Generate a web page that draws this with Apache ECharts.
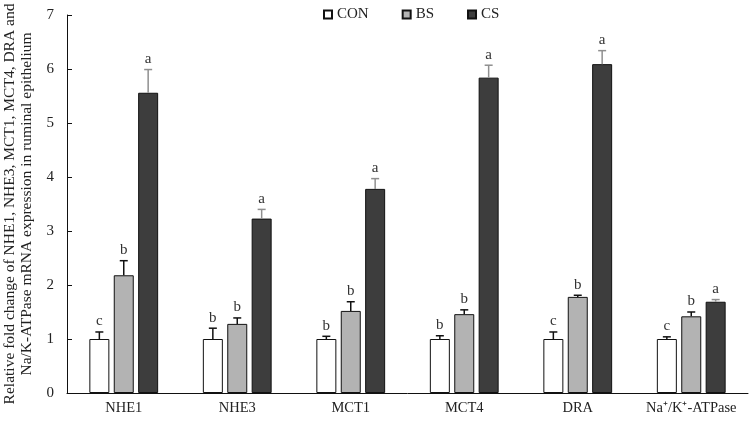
<!DOCTYPE html>
<html>
<head>
<meta charset="utf-8">
<script src="https://cdn.jsdelivr.net/npm/echarts@6/dist/echarts.min.js"></script>
<style>html,body{margin:0;padding:0;background:#fff;}#c{width:752px;height:422px;}</style>
</head>
<body>
<div id="c"></div>
<script>
var categories = ['NHE1', 'NHE3', 'MCT1', 'MCT4', 'DRA', 'Na\u207A/K\u207A-ATPase'];
var seriesNames = ['CON', 'BS', 'CS'];
var conValues = [1.00, 1.00, 1.00, 1.00, 1.00, 1.00];
var bsValues  = [2.18, 1.28, 1.52, 1.46, 1.78, 1.42];
var csValues  = [5.56, 3.23, 3.78, 5.84, 6.09, 1.69];
var conErr = [0.13, 0.20, 0.05, 0.06, 0.13, 0.04];
var bsErr  = [0.27, 0.11, 0.17, 0.08, 0.03, 0.08];
var csErr  = [0.43, 0.17, 0.19, 0.23, 0.25, 0.04];
var conLetters = ['c', 'b', 'b', 'b', 'c', 'c'];
var bsLetters  = ['b', 'b', 'b', 'b', 'b', 'b'];
var csLetters  = ['a', 'a', 'a', 'a', 'a', 'a'];
var yTicks = [0, 1, 2, 3, 4, 5, 6, 7];

var values = [conValues, bsValues, csValues];
var errs = [conErr, bsErr, csErr];
var letters = [conLetters, bsLetters, csLetters];
var fills = ['#ffffff', '#b3b3b3', '#3d3d3d'];
var errColors = ['#111111', '#111111', '#8f8f8f'];
var FONT = '"Liberation Serif", "Times New Roman", serif';
var BAR_W = 20, BAR_GAP = 4.4;

var chart = echarts.init(document.getElementById('c'), null, {renderer: 'canvas'});

function errRender(si) {
  return function (params, api) {
    var xi = api.value(0), m = api.value(1), e = api.value(2);
    var base = api.coord([xi, m]);
    var top = api.coord([xi, m + e]);
    var cx = base[0] + (si - 1) * (BAR_W + BAR_GAP);
    var col = errColors[si];
    return {
      type: 'group',
      children: [
        {type: 'line', shape: {x1: cx, y1: base[1], x2: cx, y2: top[1]}, style: {stroke: col, lineWidth: 1.5}},
        {type: 'line', shape: {x1: cx - 4, y1: top[1], x2: cx + 4, y2: top[1]}, style: {stroke: col, lineWidth: 1.5}},
        {type: 'text', x: cx, y: top[1] - 3, style: {text: letters[si][params.dataIndex], fill: '#333', font: '15px ' + FONT, textAlign: 'center', textVerticalAlign: 'bottom'}}
      ]
    };
  };
}

var series = [];
for (var s = 0; s < 3; s++) {
  series.push({
    name: seriesNames[s], type: 'bar', barWidth: BAR_W, barGap: '22%',
    itemStyle: {color: fills[s], borderColor: '#111', borderWidth: 1},
    data: values[s], z: 2
  });
}
for (var s2 = 0; s2 < 3; s2++) {
  series.push({
    name: 'err' + s2, type: 'custom', renderItem: errRender(s2), z: 3,
    data: values[s2].map(function (v, i) { return [i, v, errs[this][i]]; }, s2)
  });
}

chart.setOption({
  animation: false,
  backgroundColor: '#fff',
  textStyle: {fontFamily: FONT},
  legend: {
    data: seriesNames, left: 318, top: 2, itemWidth: 8, itemHeight: 8, itemGap: 33,
    icon: 'rect',
    textStyle: {fontFamily: FONT, fontSize: 15, color: '#222'}
  },
  grid: {left: 67, right: 4, top: 15, bottom: 29, containLabel: false, outerBoundsMode: 'none'},
  xAxis: {
    type: 'category', data: categories,
    axisLine: {lineStyle: {color: '#111', width: 1}},
    axisTick: {inside: true, length: 4, lineStyle: {color: '#111'}},
    axisLabel: {interval: 0, fontFamily: FONT, fontSize: 14.5, color: '#222', margin: 8}
  },
  yAxis: {
    type: 'value', min: yTicks[0], max: yTicks[yTicks.length - 1], interval: 1,
    splitLine: {show: false},
    axisLine: {show: true, lineStyle: {color: '#111', width: 1}},
    axisTick: {show: true, inside: true, length: 5, lineStyle: {color: '#111'}},
    axisLabel: {fontFamily: FONT, fontSize: 15, color: '#222', margin: 13},
    name: 'Relative fold change of NHE1, NHE3, MCT1, MCT4, DRA and\nNa/K-ATPase mRNA expression in ruminal epithelium',
    nameLocation: 'middle', nameGap: 31, nameRotate: 90,
    nameTextStyle: {fontFamily: FONT, fontSize: 15.5, color: '#222', lineHeight: 17}
  },
  series: series
});
</script>
</body>
</html>
